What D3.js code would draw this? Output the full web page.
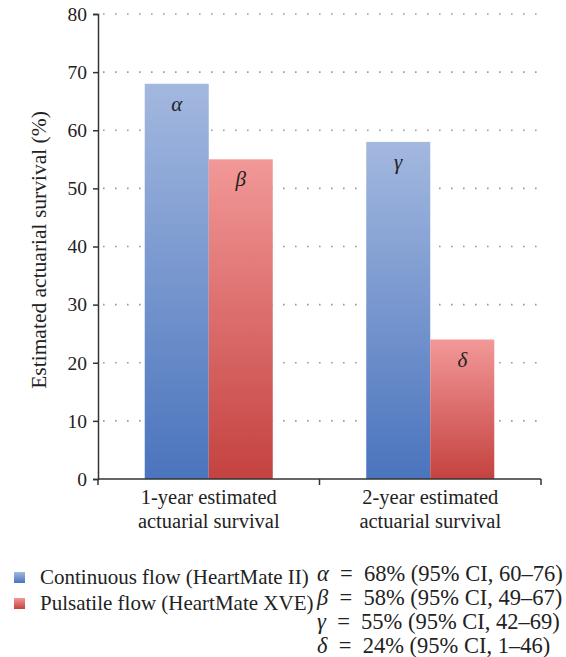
<!DOCTYPE html>
<html>
<head>
<meta charset="utf-8">
<script src="https://cdn.jsdelivr.net/npm/d3@7"></script>
<style>
body { margin: 0; background: #fff; }
svg text { font-family: "Liberation Serif", "DejaVu Serif", serif !important; fill: #222; }
</style>
</head>
<body>
<div id="chart"></div>
<script>

var categories = ["1-year estimated\nactuarial survival", "2-year estimated\nactuarial survival"];
var seriesNames = ["Continuous flow (HeartMate II)", "Pulsatile flow (HeartMate XVE)"];
var continuousVals = [68, 58];
var pulsatileVals = [55, 24];
var barLetters = [["α", "β"], ["γ", "δ"]];
var yTicks = [0, 10, 20, 30, 40, 50, 60, 70, 80];
var ciNotes = [
	["α", "\u2002=\u200268% (95% CI, 60–76)"],
	["β", "\u2002=\u200258% (95% CI, 49–67)"],
	["γ", "\u2002=\u200255% (95% CI, 42–69)"],
	["δ", "\u2002=\u200224% (95% CI, 1–46)"]
];

var W = 566, H = 657;
var mLeft = 98, mRight = 541, mTop = 14, mBottom = 479;

var svg = d3.select("#chart")
	.append("svg")
	.attr("width", W)
	.attr("height", H);

var defs = svg.append("defs");
var grads = [
	{id: "gBlue", c1: "#a3b8df", c2: "#4a74bd"},
	{id: "gRed", c1: "#f29898", c2: "#c4423f"}
];
grads.forEach(function(g) {
	var lg = defs.append("linearGradient")
		.attr("id", g.id)
		.attr("x1", 0).attr("y1", 0).attr("x2", 0).attr("y2", 1);
	lg.append("stop").attr("offset", "0%").attr("stop-color", g.c1);
	lg.append("stop").attr("offset", "100%").attr("stop-color", g.c2);
});

var y = d3.scaleLinear().domain([0, 80]).range([mBottom, mTop]);
var x0 = d3.scaleBand().domain(d3.range(categories.length)).range([mLeft, mRight]);
var x1 = d3.scaleBand().domain([0, 1]).range([0, x0.bandwidth()]).paddingOuter(0.73).paddingInner(0);

// dotted gridlines
svg.selectAll(".grid")
	.data(yTicks.slice(1))
	.enter().append("line")
	.attr("class", "grid")
	.attr("x1", mLeft + 5)
	.attr("x2", mRight)
	.attr("y1", function(d) { return y(d); })
	.attr("y2", function(d) { return y(d); })
	.style("stroke", "#999")
	.style("stroke-width", 1.6)
	.style("stroke-dasharray", "1.6,10.4");

var rows = categories.map(function(c, i) {
	return [
		{cat: i, s: 0, v: continuousVals[i], letter: barLetters[i][0]},
		{cat: i, s: 1, v: pulsatileVals[i], letter: barLetters[i][1]}
	];
});

var group = svg.selectAll(".cat")
	.data(rows)
	.enter().append("g")
	.attr("class", "cat")
	.attr("transform", function(d, i) { return "translate(" + x0(i) + ",0)"; });

group.selectAll("rect")
	.data(function(d) { return d; })
	.enter().append("rect")
	.attr("x", function(d) { return x1(d.s); })
	.attr("y", function(d) { return y(d.v); })
	.attr("width", x1.bandwidth())
	.attr("height", function(d) { return y(0) - y(d.v); })
	.style("fill", function(d) { return d.s == 0 ? "url(#gBlue)" : "url(#gRed)"; });

group.selectAll(".letter")
	.data(function(d) { return d; })
	.enter().append("text")
	.attr("class", "letter")
	.attr("x", function(d) { return x1(d.s) + x1.bandwidth() / 2; })
	.attr("y", function(d) { return y(d.v) + 27; })
	.attr("text-anchor", "middle")
	.style("font-style", "italic")
	.style("font-size", "21px")
	.text(function(d) { return d.letter; });

// y axis
var yAxis = svg.append("g")
	.attr("transform", "translate(" + mLeft + ",0)")
	.call(d3.axisLeft(y).tickValues(yTicks).tickSize(5).tickPadding(6))
	.attr("font-family", "Liberation Serif, serif");
yAxis.select(".domain").style("stroke", "#333").style("stroke-width", 1.5);
yAxis.selectAll(".tick line").style("stroke", "#333").style("stroke-width", 1.5);
yAxis.selectAll("text")
	.style("font-size", "19.5px")
	.style("fill", "#222");

// x axis
svg.append("line")
	.attr("x1", mLeft).attr("x2", mRight)
	.attr("y1", mBottom).attr("y2", mBottom)
	.style("stroke", "#333").style("stroke-width", 1.5);
svg.selectAll(".xtick")
	.data(d3.range(categories.length + 1))
	.enter().append("line")
	.attr("class", "xtick")
	.attr("x1", function(d) { return d < categories.length ? x0(d) : x0(d - 1) + x0.bandwidth(); })
	.attr("x2", function(d) { return d < categories.length ? x0(d) : x0(d - 1) + x0.bandwidth(); })
	.attr("y1", mBottom)
	.attr("y2", mBottom + 6)
	.style("stroke", "#333").style("stroke-width", 1.5);

svg.selectAll(".catlabel")
	.data(categories)
	.enter().append("text")
	.attr("class", "catlabel")
	.attr("text-anchor", "middle")
	.style("font-size", "20.5px")
	.attr("transform", function(d, i) { return "translate(" + (x0(i) + x0.bandwidth() / 2) + ",504)"; })
	.selectAll("tspan")
	.data(function(d) { return d.split("\n"); })
	.enter().append("tspan")
	.attr("x", 0)
	.attr("dy", function(d, i) { return i == 0 ? 0 : 24; })
	.text(function(d) { return d; });

svg.append("text")
	.attr("transform", "translate(46,250) rotate(-90)")
	.attr("text-anchor", "middle")
	.style("font-size", "21.5px")
	.text("Estimated actuarial survival (%)");

// legend
var legend = svg.selectAll(".leg")
	.data(seriesNames)
	.enter().append("g")
	.attr("class", "leg")
	.attr("transform", function(d, i) { return "translate(14," + (572 + i * 26) + ")"; });
legend.append("rect")
	.attr("width", 11).attr("height", 11)
	.style("fill", function(d, i) { return i == 0 ? "url(#gBlue)" : "url(#gRed)"; });
legend.append("text")
	.attr("x", 26).attr("y", 12)
	.style("font-size", "21px")
	.text(function(d) { return d; });

var notes = svg.selectAll(".note")
	.data(ciNotes)
	.enter().append("text")
	.attr("class", "note")
	.attr("x", 317)
	.attr("y", function(d, i) { return 581 + i * 24; })
	.style("font-size", "22.5px");
notes.append("tspan").style("font-style", "italic").text(function(d) { return d[0]; });
notes.append("tspan").text(function(d) { return d[1]; });

</script>
</body>
</html>
